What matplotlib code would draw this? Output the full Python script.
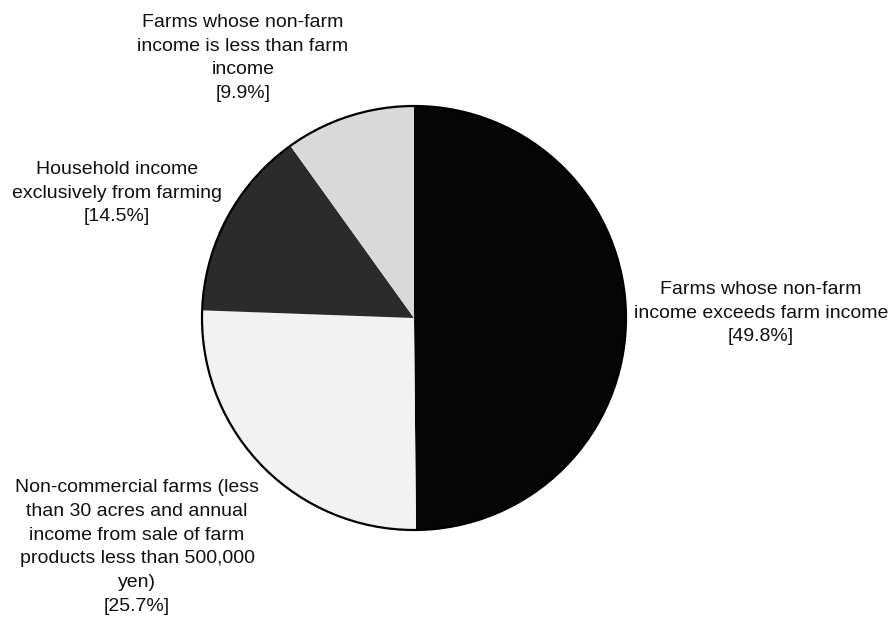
import matplotlib
matplotlib.use("Agg")
import matplotlib.pyplot as plt
from matplotlib.patches import Circle

# slices, clockwise from 12 o'clock
labels = [
    "Farms whose non-farm\nincome exceeds farm income",
    "Non-commercial farms (less\nthan 30 acres and annual\nincome from sale of farm\nproducts less than 500,000\nyen)",
    "Household income\nexclusively from farming",
    "Farms whose non-farm\nincome is less than farm\nincome",
]
shares = [49.8, 25.7, 14.5, 9.9]
colors = ["#050505", "#f2f2f2", "#2b2b2b", "#d9d9d9"]

# label centres in pixel space (x from left, y from top)
label_pos = [(761, 313), (137, 547), (117, 193), (243, 58)]

W, H = 892, 617
CX, CY, R = 414, H - 318, 212

plt.rcParams["font.family"] = ["Liberation Sans", "DejaVu Sans"]
fig = plt.figure(figsize=(W / 100, H / 100), dpi=100)
ax = fig.add_axes([0, 0, 1, 1])

ax.pie(shares, colors=colors, startangle=90, counterclock=False,
       center=(CX, CY), radius=R, wedgeprops=dict(linewidth=0))
# only the rim is outlined, slice borders are just the colour change
ax.add_patch(Circle((CX, CY), R, fill=False, edgecolor="black", linewidth=1.6))

for lab, val, (x, y) in zip(labels, shares, label_pos):
    ax.text(x, H - y, f"{lab}\n[{val}%]", ha="center", va="center",
            fontsize=14, linespacing=1.53, color="#111111")

ax.set_xlim(0, W)
ax.set_ylim(0, H)
ax.set_aspect("equal")
ax.axis("off")

fig.savefig("out.png", dpi=100)
